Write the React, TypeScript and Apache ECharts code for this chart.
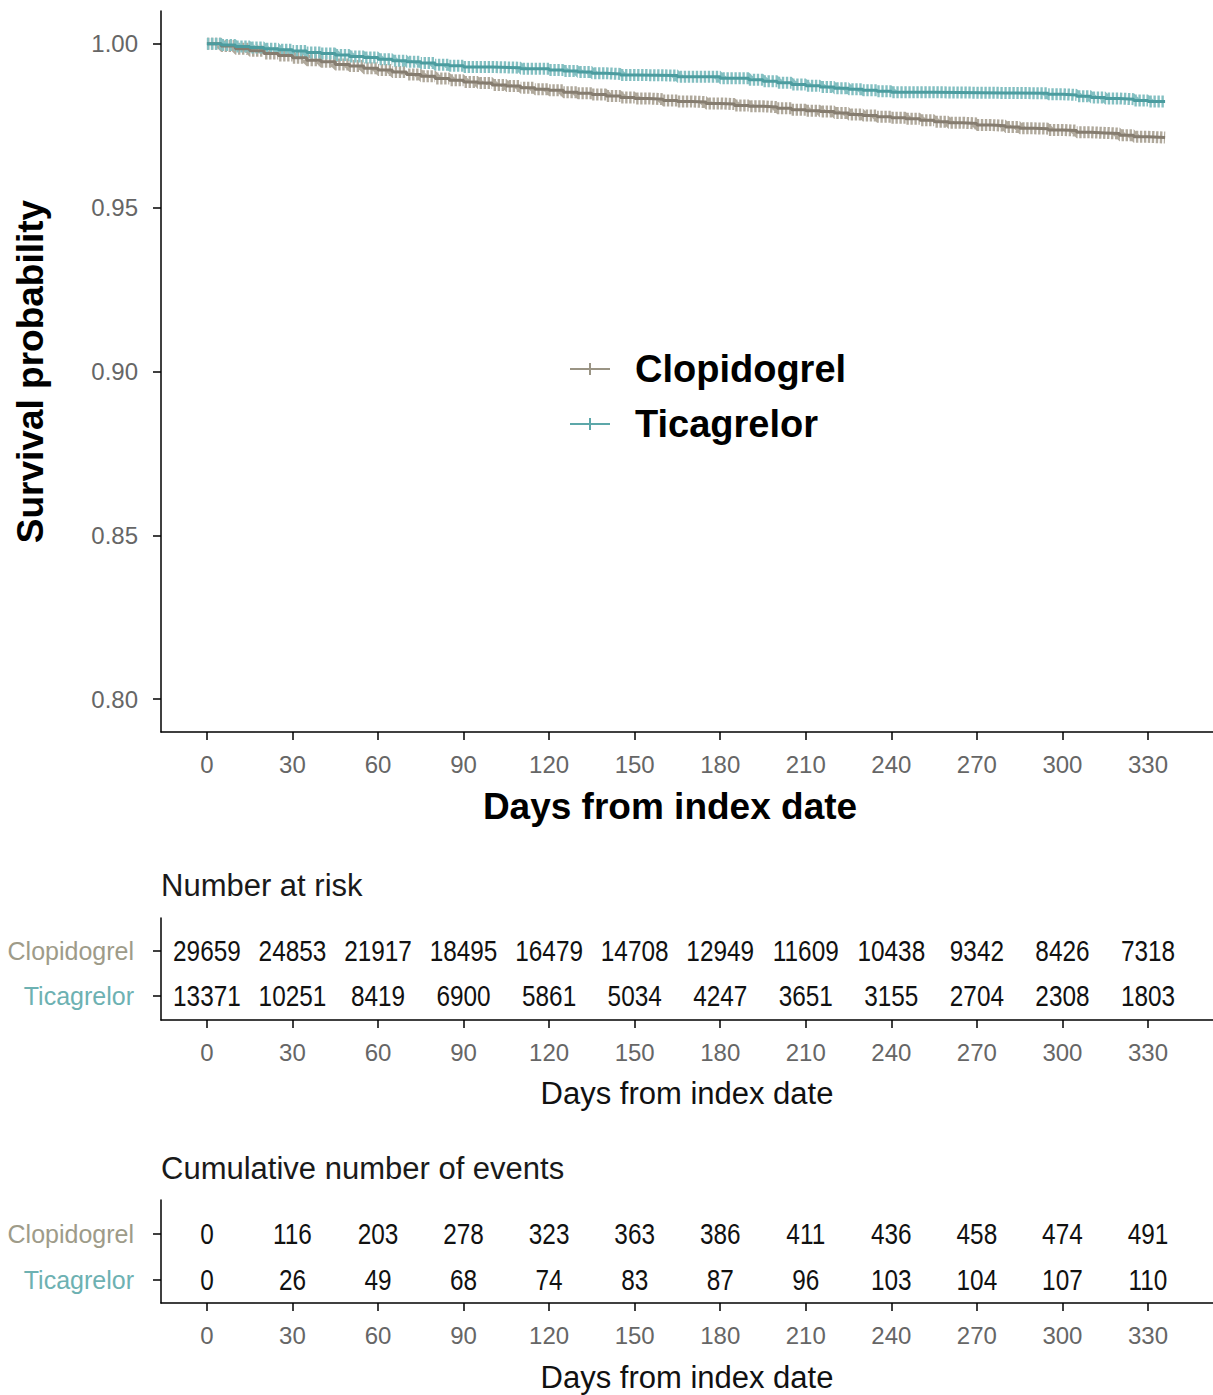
import React, { useEffect, useRef } from "react";
import * as echarts from "echarts";

const FONT = "'Liberation Sans', Arial, sans-serif";

// Kaplan-Meier step curves (day, survival probability)
const clopDays = [0, 5, 10, 15, 20, 25, 30, 35, 40, 45, 50, 55, 60, 65, 70, 75, 80, 85, 90, 95, 100, 105, 110, 115, 120, 125, 130, 135, 140, 145, 150, 155, 160, 165, 170, 175, 180, 185, 190, 195, 200, 205, 210, 215, 220, 225, 230, 235, 240, 245, 250, 255, 260, 265, 270, 275, 280, 285, 290, 295, 300, 305, 310, 315, 320, 325, 330, 336];
const clopSurv = [1.0, 0.9993, 0.9985, 0.9979, 0.9970, 0.9964, 0.9957, 0.9950, 0.9945, 0.9937, 0.9932, 0.9925, 0.9920, 0.9914, 0.9906, 0.9901, 0.9894, 0.9889, 0.9883, 0.9880, 0.9874, 0.9871, 0.9866, 0.9861, 0.9858, 0.9852, 0.9849, 0.9845, 0.9841, 0.9836, 0.9833, 0.9831, 0.9827, 0.9824, 0.9822, 0.9818, 0.9816, 0.9812, 0.9809, 0.9807, 0.9803, 0.9799, 0.9796, 0.9793, 0.9789, 0.9784, 0.9781, 0.9777, 0.9774, 0.9771, 0.9767, 0.9762, 0.9759, 0.9757, 0.9752, 0.9750, 0.9746, 0.9742, 0.9741, 0.9737, 0.9735, 0.9730, 0.9728, 0.9726, 0.9721, 0.9716, 0.9714, 0.9712];

const ticaDays = [0, 5, 10, 15, 20, 25, 30, 35, 40, 45, 50, 55, 60, 65, 70, 75, 80, 85, 90, 100, 110, 120, 125, 130, 135, 140, 145, 150, 165, 180, 190, 195, 200, 205, 210, 215, 220, 225, 230, 235, 240, 255, 280, 295, 300, 305, 310, 315, 320, 325, 330, 336];
const ticaSurv = [1.0, 0.9996, 0.9992, 0.9989, 0.9985, 0.9982, 0.9978, 0.9973, 0.9970, 0.9966, 0.9961, 0.9958, 0.9953, 0.9948, 0.9945, 0.9941, 0.9936, 0.9933, 0.9929, 0.9927, 0.9924, 0.9920, 0.9917, 0.9914, 0.9910, 0.9908, 0.9905, 0.9903, 0.9899, 0.9895, 0.9890, 0.9886, 0.9881, 0.9876, 0.9872, 0.9868, 0.9864, 0.9861, 0.9858, 0.9855, 0.9852, 0.9850, 0.9849, 0.9846, 0.9844, 0.9840, 0.9836, 0.9833, 0.9831, 0.9827, 0.9824, 0.9822];

// Axis ticks
const xTicks = [0, 30, 60, 90, 120, 150, 180, 210, 240, 270, 300, 330];
const yTicks = [0.8, 0.85, 0.9, 0.95, 1.0];

// Risk table
const groupNames = ["Ticagrelor", "Clopidogrel"]; // row value 0, 1
const riskTimes = [0, 30, 60, 90, 120, 150, 180, 210, 240, 270, 300, 330];
const riskClop = [29659, 24853, 21917, 18495, 16479, 14708, 12949, 11609, 10438, 9342, 8426, 7318];
const riskTica = [13371, 10251, 8419, 6900, 5861, 5034, 4247, 3651, 3155, 2704, 2308, 1803];
const eventsClop = [0, 116, 203, 278, 323, 363, 386, 411, 436, 458, 474, 491];
const eventsTica = [0, 26, 49, 68, 74, 83, 87, 96, 103, 104, 107, 110];

const COL_CLOP = "#857c6f";
const COL_TICA = "#4b9c9f";
const COL_CLOP_CENS = "#b0a99c";
const COL_TICA_CENS = "#84c0c2";
const COL_CLOP_LABEL = "#9e9b89";
const COL_TICA_LABEL = "#6db1b2";

const zip = (xs: number[], ys: number[]) => xs.map((x, i) => [x, ys[i]]);

export default function App() {
  const ref = useRef<HTMLDivElement>(null);
  useEffect(() => {
    if (!ref.current) return;
    const chart = echarts.init(ref.current, undefined, { renderer: "svg" });

    const axisLineStyle = { color: "#000", width: 1.5 };
    const makeX = (gridIndex: number, nameStyle: any, nameGap: number) => ({
      type: "value",
      gridIndex,
      min: -16.1,
      max: 352.8,
      axisLine: { show: true, onZero: false, lineStyle: axisLineStyle },
      axisTick: { show: true, length: 8, customValues: xTicks, lineStyle: axisLineStyle },
      axisLabel: { customValues: xTicks, fontSize: 24, color: "#666", margin: 20, fontFamily: FONT },
      splitLine: { show: false },
      name: "Days from index date",
      nameLocation: "middle",
      nameGap,
      nameTextStyle: nameStyle,
    });
    const makeTableY = (gridIndex: number, min: number, max: number) => ({
      type: "value",
      gridIndex,
      min,
      max,
      axisLine: { show: true, onZero: false, lineStyle: axisLineStyle },
      axisTick: { show: true, length: 8, customValues: [0, 1], lineStyle: axisLineStyle },
      axisLabel: {
        customValues: [0, 1],
        margin: 27,
        formatter: (v: number) => (Math.round(v) === 1 ? `{c|${groupNames[1]}}` : `{t|${groupNames[0]}}`),
        rich: {
          c: { color: COL_CLOP_LABEL, fontSize: 25, fontFamily: FONT },
          t: { color: COL_TICA_LABEL, fontSize: 25, fontFamily: FONT },
        },
      },
      splitLine: { show: false },
    });

    const renderCell = (params: any, api: any) => {
      const pt = api.coord([api.value(0), api.value(1)]);
      return {
        type: "text",
        x: pt[0],
        y: pt[1],
        scaleX: 0.84,
        style: {
          text: String(api.value(2)),
          align: "center",
          verticalAlign: "middle",
          fontSize: 29,
          fontFamily: FONT,
          fill: "#111",
        },
      };
    };
    const riskData = riskTimes.flatMap((t, i) => [
      [t, 1, riskClop[i]],
      [t, 0, riskTica[i]],
    ]);
    const eventData = riskTimes.flatMap((t, i) => [
      [t, 1, eventsClop[i]],
      [t, 0, eventsTica[i]],
    ]);

    const tableNameStyle = { fontSize: 31, color: "#111", fontFamily: FONT };
    const legendIcon = "path://M0,6 H40 V8 H0 Z M19,1 H21 V13 H19 Z";

    chart.setOption({
      animation: false,
      textStyle: { fontFamily: FONT },
      title: [
        {
          text: "Number at risk",
          left: 161,
          top: 869,
          padding: 0,
          textStyle: { fontSize: 31, fontWeight: "normal", color: "#1a1a1a", fontFamily: FONT, lineHeight: 32 },
        },
        {
          text: "Cumulative number of events",
          left: 161,
          top: 1152,
          padding: 0,
          textStyle: { fontSize: 31, fontWeight: "normal", color: "#1a1a1a", fontFamily: FONT, lineHeight: 32 },
        },
      ],
      legend: {
        orient: "vertical",
        left: 570,
        top: 349,
        padding: 0,
        itemWidth: 40,
        itemHeight: 14,
        itemGap: 15,
        selectedMode: false,
        textStyle: { fontSize: 38, fontWeight: "bold", color: "#000", fontFamily: FONT, lineHeight: 40, padding: [0, 0, 0, 20] },
        data: [
          { name: "Clopidogrel", icon: legendIcon, itemStyle: { color: "#9a9484" } },
          { name: "Ticagrelor", icon: legendIcon, itemStyle: { color: "#5ca7a9" } },
        ],
      },
      grid: [
        { left: 161, top: 11, width: 1052, height: 721, outerBoundsMode: "none" },
        { left: 161, top: 918, width: 1052, height: 102, outerBoundsMode: "none" },
        { left: 161, top: 1200, width: 1052, height: 103, outerBoundsMode: "none" },
      ],
      xAxis: [
        makeX(0, { fontSize: 37, fontWeight: "bold", color: "#000", fontFamily: FONT, padding: [0, 34, 0, 0] }, 56),
        makeX(1, tableNameStyle, 58),
        makeX(2, tableNameStyle, 59),
      ],
      yAxis: [
        {
          type: "value",
          gridIndex: 0,
          min: 0.79,
          max: 1.01,
          axisLine: { show: true, onZero: false, lineStyle: axisLineStyle },
          axisTick: { show: true, length: 8, customValues: yTicks, lineStyle: axisLineStyle },
          axisLabel: {
            customValues: yTicks,
            formatter: (v: number) => v.toFixed(2),
            fontSize: 24,
            color: "#666",
            margin: 23,
            fontFamily: FONT,
          },
          splitLine: { show: false },
          name: "Survival probability",
          nameLocation: "middle",
          nameGap: 112,
          nameTextStyle: { fontSize: 37, fontWeight: "bold", color: "#000", fontFamily: FONT },
        },
        makeTableY(1, -0.5333, 1.7333),
        makeTableY(2, -0.5, 1.739),
      ],
      series: [
        {
          name: "Clopidogrel censored",
          type: "line",
          xAxisIndex: 0,
          yAxisIndex: 0,
          data: zip(clopDays, clopSurv),
          step: "end",
          showSymbol: false,
          silent: true,
          lineStyle: { color: COL_CLOP_CENS, width: 12, type: [2.4, 1.6] },
          z: 1,
        },
        {
          name: "Ticagrelor censored",
          type: "line",
          xAxisIndex: 0,
          yAxisIndex: 0,
          data: zip(ticaDays, ticaSurv),
          step: "end",
          showSymbol: false,
          silent: true,
          lineStyle: { color: COL_TICA_CENS, width: 12, type: [2.4, 1.6] },
          z: 1,
        },
        {
          name: "Clopidogrel",
          type: "line",
          xAxisIndex: 0,
          yAxisIndex: 0,
          data: zip(clopDays, clopSurv),
          step: "end",
          showSymbol: false,
          color: COL_CLOP,
          lineStyle: { color: COL_CLOP, width: 3 },
          z: 2,
        },
        {
          name: "Ticagrelor",
          type: "line",
          xAxisIndex: 0,
          yAxisIndex: 0,
          data: zip(ticaDays, ticaSurv),
          step: "end",
          showSymbol: false,
          color: COL_TICA,
          lineStyle: { color: COL_TICA, width: 3 },
          z: 3,
        },
        {
          name: "Number at risk",
          type: "custom",
          xAxisIndex: 1,
          yAxisIndex: 1,
          data: riskData,
          renderItem: renderCell,
          silent: true,
        },
        {
          name: "Cumulative number of events",
          type: "custom",
          xAxisIndex: 2,
          yAxisIndex: 2,
          data: eventData,
          renderItem: renderCell,
          silent: true,
        },
      ],
    });
    return () => chart.dispose();
  }, []);

  return (
    <div
      ref={ref}
      style={{ position: "absolute", left: 0, top: 0, width: 1213, height: 1395, background: "#fff" }}
    />
  );
}
